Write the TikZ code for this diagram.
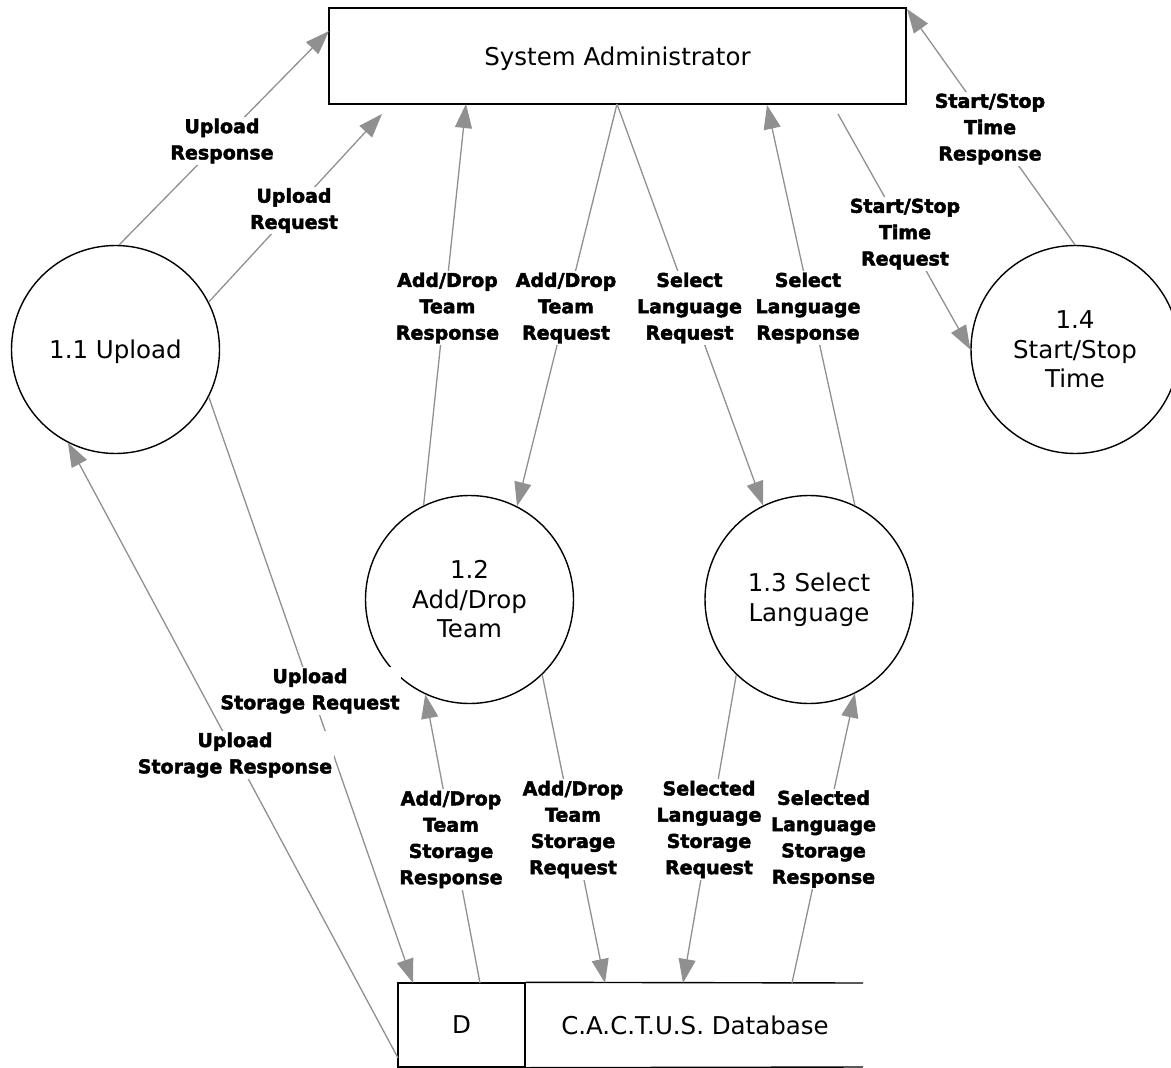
\documentclass[tikz,border=0pt]{standalone}
\usepackage{fontspec}
\setmainfont{DejaVu Sans}
\newfontfamily\labelfont{DejaVu Sans Bold}[FakeBold=2.5]
\usetikzlibrary{arrows.meta,calc}
\definecolor{flow}{HTML}{909090}
\begin{document}
\begin{tikzpicture}[x=1pt,y=-1pt,
  proc/.style={circle, draw=black, line width=1.4pt, minimum size=208pt, inner sep=0pt, align=center, font=\fontsize{24.5}{29.5}\selectfont},
  entity/.style={draw=black, line width=1.4pt, inner sep=0pt, font=\fontsize{24.5}{29.5}\selectfont},
  flowline/.style={draw=flow, line width=1.3pt},
  flowarrow/.style={flowline, -{Triangle[length=24pt,width=17pt]}},
  flowlabel/.style={fill=white, inner sep=1.5pt, align=center, font=\labelfont\fontsize{19}{26.3}\selectfont},
]
\useasboundingbox (0,0) rectangle (1171,1068);

% external entity
\node[entity, minimum width=577pt, minimum height=96pt, text height=18pt, text depth=0pt] (sa) at (617.5,56) {System Administrator};

% processes
\node[proc, text height=18pt, text depth=0pt] (p11) at (115.5,349.5) {1.1 Upload};
\node[proc] (p12) at (469.5,599.5) {1.2\\Add/Drop\\Team};
\node[proc] (p13) at (809,599.5) {1.3 Select\\Language};
\node[proc] (p14) at (1075,349.5) {1.4\\Start/Stop\\Time};

% data store
\node[entity, minimum width=127pt, minimum height=84pt] (dbid) at (461.5,1025) {D};
\node[font=\fontsize{24.5}{29.5}\selectfont] (dbname) at (695,1025) {C.A.C.T.U.S. Database};
\coordinate (dbTR) at (863,983);
\coordinate (dbBR) at (863,1067);
\draw[line width=1.4pt] (dbid.north east) -- (dbTR);
\draw[line width=1.4pt] (dbid.south east) -- (dbBR);

% connector end points
\coordinate (saL) at (329,31);
\coordinate (uqEnd) at (382,114);
\coordinate (saB1) at (466,104);
\coordinate (saB2) at (617,104);
\coordinate (saB3) at (767,105);
\coordinate (sstqStart) at (838,114);
\coordinate (saTR) at (907,9);
\coordinate (dbA) at (413,983);
\coordinate (dbB) at (480,983);
\coordinate (dbC) at (605,983);
\coordinate (dbD) at (683,983);
\coordinate (dbE) at (792,983);
\coordinate (dbL) at (398,1058);

% flows with the administrator
\draw[flowarrow] (p11.88) -- (saL);
\draw[flowarrow] (p11.27) -- (uqEnd);
\draw[flowarrow] (p12.116) -- (saB1);
\draw[flowarrow] (saB2) -- (p12.63);
\draw[flowarrow] (saB2) -- (p13.116);
\draw[flowarrow] (p13.64) -- (saB3);
\draw[flowarrow] (sstqStart) -- (p14.180);
\draw[flowarrow] (p14.90) -- (saTR);

% flows with the data store
\draw[flowarrow] (p11.-27) -- (dbA);
\draw[flowarrow] (dbL) -- (p11.-117);
\draw[flowarrow] (dbB) -- (p12.-115);
\draw[flowarrow] (p12.-46) -- (dbC);
\draw[flowarrow] (p13.-134) -- (dbD);
\draw[flowarrow] (dbE) -- (p13.-64);

% labels
\node[flowlabel] (lUR) at (222,141) {Upload\\Response};
\node[flowlabel] (lUQ) at (294,210.5) {Upload\\Request};
\node[flowlabel] (lADTR) at (447.5,308) {Add/Drop\\Team\\Response};
\node[flowlabel] (lADTQ) at (566,308) {Add/Drop\\Team\\Request};
\node[flowlabel] (lSLQ) at (689.5,308) {Select\\Language\\Request};
\node[flowlabel] (lSLR) at (808,308) {Select\\Language\\Response};
\node[flowlabel] (lSSTQ) at (905,234) {Start/Stop\\Time\\Request};
\node[flowlabel] (lSSTR) at (990,129) {Start/Stop\\Time\\Response};
\node[flowlabel] (lUSQ) at (310,691) {Upload\\Storage Request};
\node[flowlabel] (lUSR) at (235,755) {Upload\\Storage Response};
\node[flowlabel] (lADTSR) at (451,839.5) {Add/Drop\\Team\\Storage\\Response};
\node[flowlabel] (lADTSQ) at (573,829.5) {Add/Drop\\Team\\Storage\\Request};
\node[flowlabel] (lSLSQ) at (709,829.5) {Selected\\Language\\Storage\\Request};
\node[flowlabel] (lSLSR) at (823.5,839) {Selected\\Language\\Storage\\Response};
\end{tikzpicture}
\end{document}
